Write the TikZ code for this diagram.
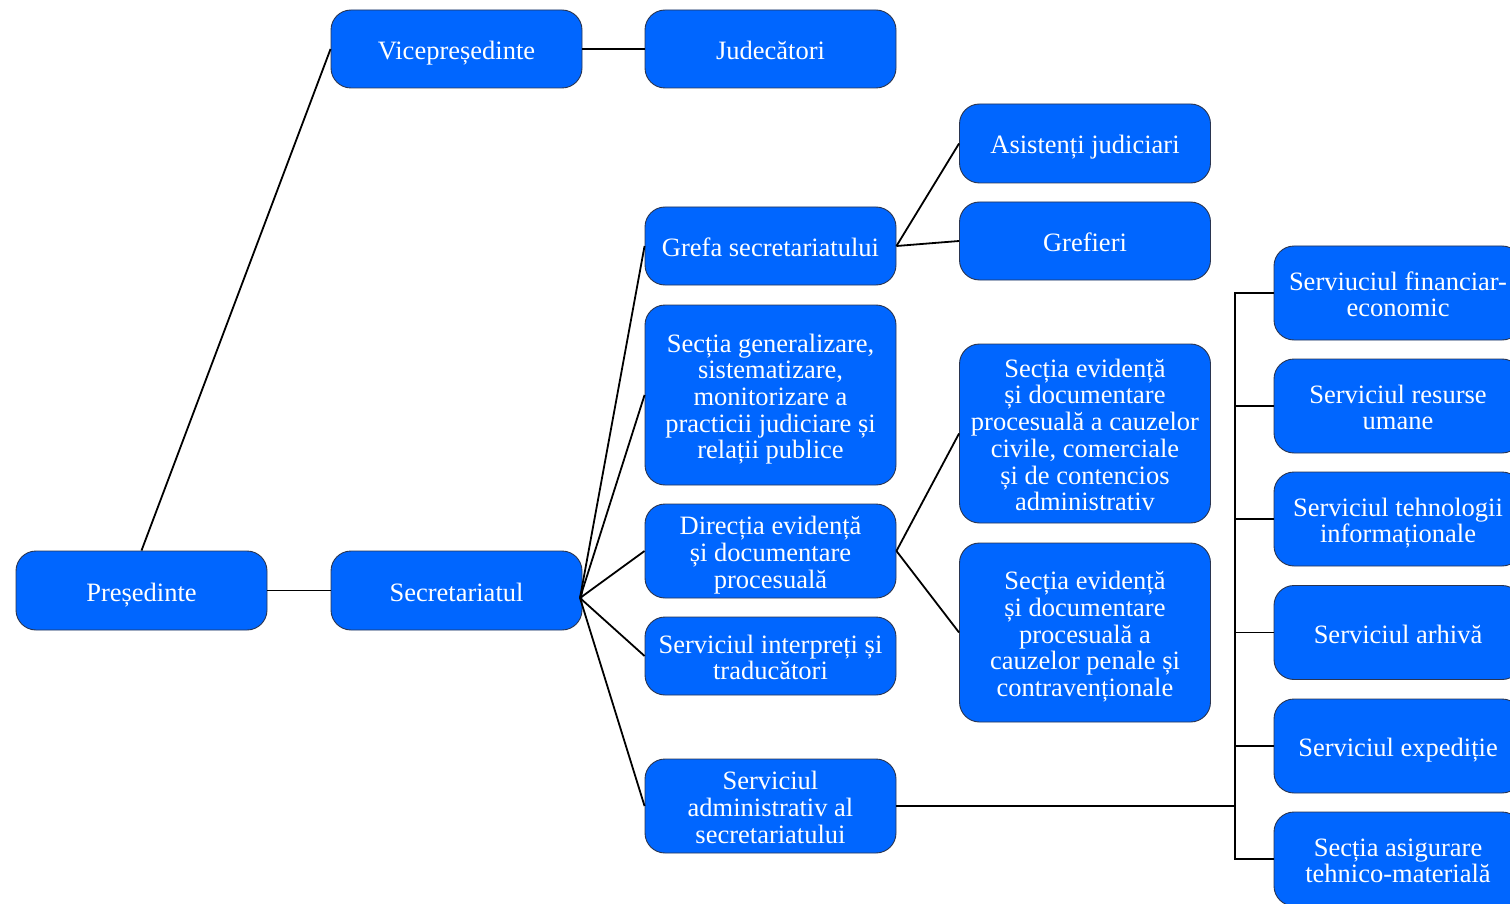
\documentclass[tikz,border=0pt]{standalone}
\usepackage{fontspec}
\setmainfont{Liberation Serif}
\definecolor{boxblue}{HTML}{0066FF}
\definecolor{boxedge}{HTML}{2A3550}
\newcommand\tstrut{\rule{0pt}{27pt}}
\begin{document}
\begin{tikzpicture}[x=1pt,y=-1pt,
  box/.style={draw=boxedge, line width=0.9pt, fill=boxblue, rounded corners=20pt,
    text=white, align=center, inner sep=2pt, minimum width=251pt,
    font=\fontsize{26.5}{26.7}\selectfont,
    execute at end node={\rule[-6pt]{0pt}{0pt}}},
  conn/.style={draw=black, line width=1.8pt}]
\clip (0,0) rectangle (1510,904);
\path[use as bounding box] (0,0) rectangle (1510,904);
% nodes
\node[box, minimum height=79pt] (pres) at (141.5,590.5) {\tstrut Președinte};
\node[box, minimum height=78pt] (vice) at (456.5,49) {\tstrut Vicepreședinte};
\node[box, minimum height=78pt] (jud) at (770.5,49) {\tstrut Judecători};
\node[box, minimum height=79pt] (sec) at (456.5,590.5) {\tstrut Secretariatul};
\node[box, minimum height=79pt] (asist) at (1085,143.5) {\tstrut Asistenți judiciari};
\node[box, minimum height=78pt] (gref) at (1085,241) {\tstrut Grefieri};
\node[box, minimum height=78pt] (grefa) at (770.5,246) {\tstrut Grefa secretariatului};
\node[box, minimum height=180pt] (gen) at (770.5,395) {\tstrut Secția generalizare,\\sistematizare,\\monitorizare a\\practicii judiciare și\\relații publice};
\node[box, minimum height=94pt] (dir) at (770.5,551) {\tstrut Direcția evidență\\și documentare\\procesuală};
\node[box, minimum height=78pt] (interp) at (770.5,656) {\tstrut Serviciul interpreți și\\traducători};
\node[box, minimum height=94pt] (admin) at (770.5,806) {\tstrut Serviciul\\administrativ al\\secretariatului};
\node[box, minimum height=179pt] (civ) at (1085,433.5) {\tstrut Secția evidență\\și documentare\\procesuală a cauzelor\\civile, comerciale\\și de contencios\\administrativ};
\node[box, minimum height=179pt] (pen) at (1085,632.5) {\tstrut Secția evidență\\și documentare\\procesuală a\\cauzelor penale și\\contravenționale};
\node[box, minimum width=248pt, minimum height=94pt] (r1) at (1398,293) {\tstrut Serviuciul financiar-\\economic};
\node[box, minimum width=248pt, minimum height=94pt] (r2) at (1398,406) {\tstrut Serviciul resurse\\umane};
\node[box, minimum width=248pt, minimum height=94pt] (r3) at (1398,519) {\tstrut Serviciul tehnologii\\informaționale};
\node[box, minimum width=248pt, minimum height=94pt] (r4) at (1398,632.5) {\tstrut Serviciul arhivă};
\node[box, minimum width=248pt, minimum height=94pt] (r5) at (1398,746) {\tstrut Serviciul expediție};
\node[box, minimum width=248pt, minimum height=94pt] (r6) at (1398,859) {\tstrut Secția asigurare\\tehnico-materială};
% connectors
\draw[conn] (pres.north) -- (vice.west);
\draw[conn] (pres.east) -- (sec.west);
\draw[conn] (vice.east) -- (jud.west);
\coordinate (fan) at (580,598);
\draw[conn] (fan) -- (grefa.west);
\draw[conn] (fan) -- (gen.west);
\draw[conn] (fan) -- (dir.west);
\draw[conn] (fan) -- (interp.west);
\draw[conn] (fan) -- (admin.west);
\draw[conn] (sec.east) -- (fan);
\draw[conn] (grefa.east) -- (asist.west);
\draw[conn] (grefa.east) -- (gref.west);
\draw[conn] (dir.east) -- (civ.west);
\draw[conn] (dir.east) -- (pen.west);
\coordinate (trunk) at (1235,806);
\draw[conn] (admin.east) -- (trunk);
\draw[conn] (r1.west) -| (trunk) |- (r6.west);
\foreach \r in {r2,r3,r4,r5} \draw[conn] (\r.west) -- (\r.west -| trunk);
\end{tikzpicture}
\end{document}
